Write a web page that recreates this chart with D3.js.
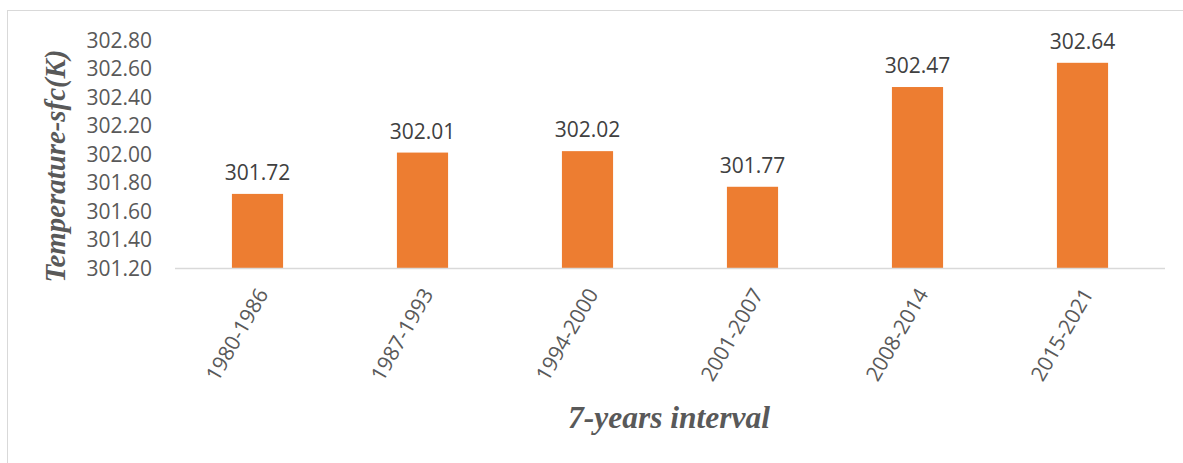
<!DOCTYPE html>
<html><head><meta charset="utf-8">
<script src="https://cdn.jsdelivr.net/npm/d3@7"></script>
<style>body{margin:0;background:#fff;} svg{display:block;}</style>
</head><body>
<svg id="c" width="1183" height="463"></svg>
<script>
const categories = ["1980-1986","1987-1993","1994-2000","2001-2007","2008-2014","2015-2021"];
const values = [301.72, 302.01, 302.02, 301.77, 302.47, 302.64];
const yTicks = [301.2, 301.4, 301.6, 301.8, 302.0, 302.2, 302.4, 302.6, 302.8];
const yTitle = "Temperature-sfc(K)";
const xTitle = "7-years interval";

const svg = d3.select("#c");
// outer frame
svg.append("rect").attr("x",7.5).attr("y",10.5).attr("width",1190).attr("height",470)
  .attr("fill","none").attr("stroke","#d9d9d9").attr("stroke-width",1);

const x = d3.scaleBand().domain(categories).range([175,1165]).paddingInner(0.69).paddingOuter(0.345);
const y = d3.scaleLinear().domain([301.2,302.8]).range([268,40]);

const font = "'Open Sans', sans-serif";
const serif = "'Liberation Serif', 'Times New Roman', serif";

// y tick labels
svg.append("g").selectAll("text").data(yTicks).join("text")
  .attr("x",152).attr("y",d=>y(d)).attr("dy","0.36em").attr("text-anchor","end")
  .attr("font-family",font).attr("font-size",21).attr("fill","#595959")
  .text(d=>d.toFixed(2));

// bars
svg.append("g").selectAll("rect").data(values).join("rect")
  .attr("x",(d,i)=>x(categories[i])).attr("width",x.bandwidth())
  .attr("y",d=>y(d)).attr("height",d=>y(301.2)-y(d))
  .attr("fill","#ED7D31");

// axis line
svg.append("line").attr("x1",175).attr("x2",1165).attr("y1",268.5).attr("y2",268.5)
  .attr("stroke","#d9d9d9").attr("stroke-width",1.5);

// data labels
svg.append("g").selectAll("text").data(values).join("text")
  .attr("x",(d,i)=>x(categories[i])+x.bandwidth()/2).attr("y",d=>y(d)-14)
  .attr("text-anchor","middle").attr("font-family",font).attr("font-size",21).attr("fill","#404040")
  .text(d=>d.toFixed(2));

// x labels
svg.append("g").selectAll("text").data(categories).join("text")
  .attr("transform",d=>`translate(${x(d)+x.bandwidth()/2+5},290) rotate(-60)`)
  .attr("text-anchor","end").attr("dy","0.36em")
  .attr("font-family",font).attr("font-size",21).attr("fill","#595959")
  .text(d=>d);

// axis titles
svg.append("text").attr("transform","translate(65,166) rotate(-90)")
  .attr("text-anchor","middle").attr("font-family",serif)
  .attr("font-weight","bold").attr("font-style","italic").attr("font-size",29).attr("fill","#595959")
  .attr("textLength",233).attr("lengthAdjust","spacingAndGlyphs")
  .text(yTitle);
svg.append("text").attr("x",669).attr("y",428)
  .attr("text-anchor","middle").attr("font-family",serif)
  .attr("font-weight","bold").attr("font-style","italic").attr("font-size",31).attr("fill","#595959")
  .attr("textLength",202).attr("lengthAdjust","spacingAndGlyphs")
  .text(xTitle);
</script>
</body></html>
